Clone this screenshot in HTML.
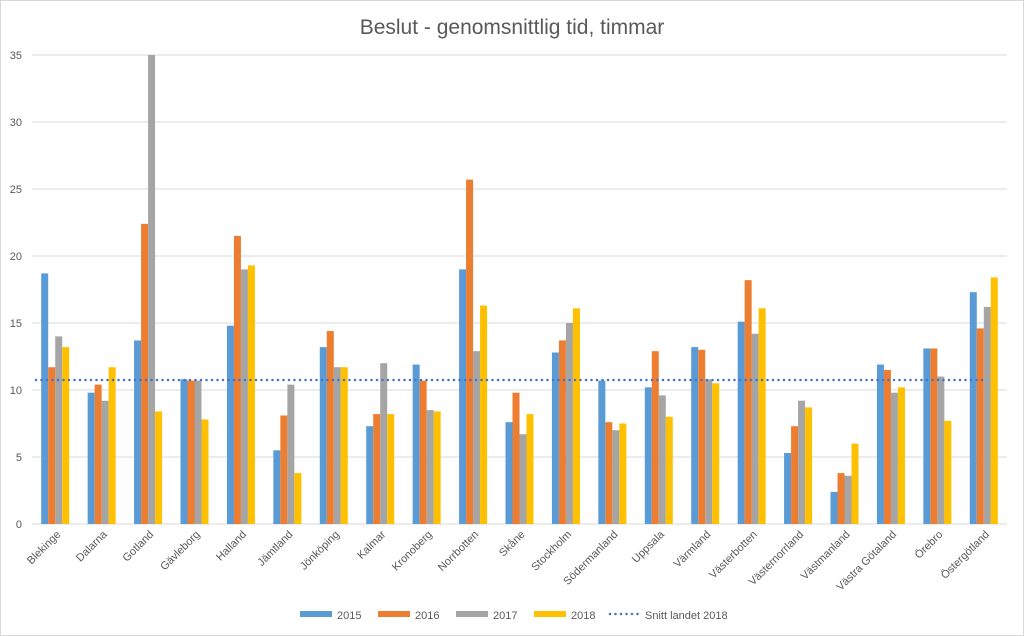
<!DOCTYPE html>
<html><head><meta charset="utf-8"><style>
html,body{margin:0;padding:0;background:#fff;}
svg{display:block;font-family:"Liberation Sans",sans-serif;}
</style></head><body>
<svg id="chart" width="1024" height="636" viewBox="0 0 1024 636">
<rect x="0.5" y="0.5" width="1023" height="635" fill="#fff" stroke="#d9d9d9"/>
<text x="512" y="34" text-anchor="middle" font-size="21" fill="#595959">Beslut - genomsnittlig tid, timmar</text>
<g id="grid"></g><g id="bars"></g><g id="xl"></g><g id="legend"></g>
</svg>
<script>
const categories=["Blekinge","Dalarna","Gotland","Gävleborg","Halland","Jämtland","Jönköping","Kalmar","Kronoberg","Norrbotten","Skåne","Stockholm","Södermanland","Uppsala","Värmland","Västerbotten","Västernorrland","Västmanland","Västra Götaland","Örebro","Östergötland"];
const s2015=[18.7,9.8,13.7,10.8,14.8,5.5,13.2,7.3,11.9,19.0,7.6,12.8,10.7,10.2,13.2,15.1,5.3,2.4,11.9,13.1,17.3];
const s2016=[11.7,10.4,22.4,10.7,21.5,8.1,14.4,8.2,10.7,25.7,9.8,13.7,7.6,12.9,13.0,18.2,7.3,3.8,11.5,13.1,14.6];
const s2017=[14.0,9.2,35.0,10.7,19.0,10.4,11.7,12.0,8.5,12.9,6.7,15.0,7.0,9.6,10.8,14.2,9.2,3.6,9.8,11.0,16.2];
const s2018=[13.2,11.7,8.4,7.8,19.3,3.8,11.7,8.2,8.4,16.3,8.2,16.1,7.5,8.0,10.5,16.1,8.7,6.0,10.2,7.7,18.4];
const average2018=10.75;
const yTicks=[0,5,10,15,20,25,30,35];
const seriesNames=["2015","2016","2017","2018"];
const colors=["#5b9bd5","#ed7d31","#a5a5a5","#ffc000"];
const series=[s2015,s2016,s2017,s2018];
const NS="http://www.w3.org/2000/svg";
const x0=32,x1=1007,y0=524,yTop=55,yMax=35;
const bw=(x1-x0)/categories.length;
const y=v=>y0-(v/yMax)*(y0-yTop);
const xc=i=>x0+(i+0.5)*bw;
function mk(tag,attrs,parent){const e=document.createElementNS(NS,tag);for(const k in attrs)e.setAttribute(k,attrs[k]);parent.appendChild(e);return e;}
const grid=document.getElementById('grid');
yTicks.forEach(t=>{
  const l=mk('line',{x1:x0,x2:x1,y1:y(t),y2:y(t),stroke:'#d9d9d9','stroke-width':1},grid);
  
  
  const tx=mk('text',{x:22,y:y(t)+4,'text-anchor':'end','font-size':11,fill:'#595959'},grid);
  tx.textContent=t;
  
  
});
const bars=document.getElementById('bars');
const w=7;
categories.forEach((c,i)=>{
  series.forEach((s,j)=>{
    const bx=xc(i)-2*w+j*w;
    const r=mk('rect',{x:bx,y:y(s[i]),width:w,height:y0-y(s[i]),fill:colors[j]},bars);
    
    
  });
});
const avg=mk('line',{x1:x0+4,x2:985,y1:y(average2018),y2:y(average2018),stroke:'#4472c4','stroke-width':2.5,'stroke-dasharray':'0 5.5','stroke-linecap':'round'},bars);


const xl=document.getElementById('xl');
categories.forEach((c,i)=>{
  const t=mk('text',{x:xc(i)+6,y:535,'text-anchor':'end','font-size':11,fill:'#595959',transform:`rotate(-45 ${xc(i)+6} 535)`},xl);
  t.textContent=c;
  
  
});
const lg=document.getElementById('legend');
const lx=[300,378,456,534];
seriesNames.forEach((n,j)=>{
  const g=mk('g',{},lg);
  
  
  mk('rect',{x:lx[j],y:611,width:32,height:6,fill:colors[j]},g);
  const t=mk('text',{x:lx[j]+37,y:619,'font-size':11,fill:'#595959'},g);
  t.textContent=n;
});
const ga=mk('g',{},lg);


mk('line',{x1:610,x2:641,y1:614,y2:614,stroke:'#4472c4','stroke-width':2.5,'stroke-dasharray':'0 5.5','stroke-linecap':'round'},ga);
const ta=mk('text',{x:645,y:619,'font-size':11,fill:'#595959'},ga);
ta.textContent='Snitt landet 2018';
</script>
</body></html>
